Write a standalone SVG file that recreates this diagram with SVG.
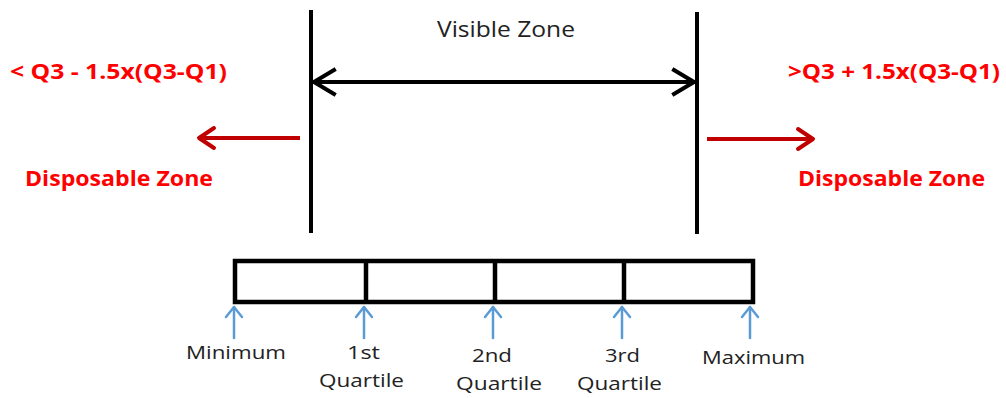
<svg xmlns="http://www.w3.org/2000/svg" width="1006" height="398" viewBox="0 0 1006 398">
<style>
.blk{stroke:#000;stroke-width:4;fill:none;stroke-linecap:square}
.red{stroke:#C00000;stroke-width:4;fill:none}
.blue{stroke:#5B9BD5;stroke-width:2.5;fill:none}
.rt{font-family:"Open Sans","Liberation Sans",sans-serif;font-weight:bold;fill:#FF0000;font-size:22px}
.bt{font-family:"Open Sans","Liberation Sans",sans-serif;fill:#222;font-size:17.5px}
.vt{font-family:"Open Sans","Liberation Sans",sans-serif;fill:#222;font-size:22px}
</style>
<rect width="1006" height="398" fill="#fff"/>
<g id="connectors">
<line class="blk" x1="311" y1="12" x2="311" y2="231"/>
<line class="blk" x1="697" y1="14" x2="697" y2="232"/>
<line class="blk" x1="314" y1="82" x2="694" y2="82"/>
<polyline class="blk" points="334,70 314,82 334,94" stroke-linecap="round" stroke-linejoin="round"/>
<polyline class="blk" points="674,70 694,82 674,94" stroke-linecap="round" stroke-linejoin="round"/>
<line class="red" x1="300" y1="138" x2="201" y2="138"/>
<polyline class="red" points="214,128 199,138 214,148" stroke-width="5" stroke-linejoin="round" stroke-linecap="round"/>
<line class="red" x1="707" y1="139" x2="811" y2="139"/>
<polyline class="red" points="798,129 813,139 798,149" stroke-width="5" stroke-linejoin="round" stroke-linecap="round"/>
<g class="blue" stroke-linecap="round" stroke-linejoin="round">
<line x1="234" y1="338" x2="234" y2="307"/><polyline points="226,317 234,307 242,317"/>
<line x1="364" y1="338" x2="364" y2="307"/><polyline points="356,317 364,307 372,317"/>
<line x1="493" y1="338" x2="493" y2="307"/><polyline points="485,317 493,307 501,317"/>
<line x1="622" y1="338" x2="622" y2="307"/><polyline points="614,317 622,307 630,317"/>
<line x1="750" y1="338" x2="750" y2="307"/><polyline points="742,317 750,307 758,317"/>
</g>
</g>
<g id="box">
<rect x="235" y="261" width="518" height="41" fill="none" stroke="#000" stroke-width="4.5"/>
<line x1="366" y1="261" x2="366" y2="302" stroke="#000" stroke-width="4.5"/>
<line x1="495" y1="261" x2="495" y2="302" stroke="#000" stroke-width="4.5"/>
<line x1="624" y1="261" x2="624" y2="302" stroke="#000" stroke-width="4.5"/>
</g>
<g id="visible-zone"><text class="vt" x="437" y="37" textLength="138" lengthAdjust="spacingAndGlyphs">Visible Zone</text></g>
<g id="left-zone">
<text class="rt" x="10" y="79" textLength="217" lengthAdjust="spacingAndGlyphs">&lt; Q3 - 1.5x(Q3-Q1)</text>
<text class="rt" x="25" y="186" textLength="188" lengthAdjust="spacingAndGlyphs">Disposable Zone</text>
</g>
<g id="right-zone">
<text class="rt" x="788" y="79" textLength="212" lengthAdjust="spacingAndGlyphs">&gt;Q3 + 1.5x(Q3-Q1)</text>
<text class="rt" x="798" y="186" textLength="187" lengthAdjust="spacingAndGlyphs">Disposable Zone</text>
</g>
<g id="minimum"><text class="bt" x="186" y="359" textLength="100" lengthAdjust="spacingAndGlyphs">Minimum</text></g>
<g id="q1"><text class="bt" x="347" y="359" textLength="33" lengthAdjust="spacingAndGlyphs">1st</text><text class="bt" x="319" y="387" textLength="85" lengthAdjust="spacingAndGlyphs">Quartile</text></g>
<g id="q2"><text class="bt" x="472" y="362" textLength="40" lengthAdjust="spacingAndGlyphs">2nd</text><text class="bt" x="456" y="390" textLength="86" lengthAdjust="spacingAndGlyphs">Quartile</text></g>
<g id="q3"><text class="bt" x="605" y="362" textLength="35" lengthAdjust="spacingAndGlyphs">3rd</text><text class="bt" x="577" y="390" textLength="85" lengthAdjust="spacingAndGlyphs">Quartile</text></g>
<g id="maximum"><text class="bt" x="702" y="364" textLength="103" lengthAdjust="spacingAndGlyphs">Maximum</text></g>
</svg>
